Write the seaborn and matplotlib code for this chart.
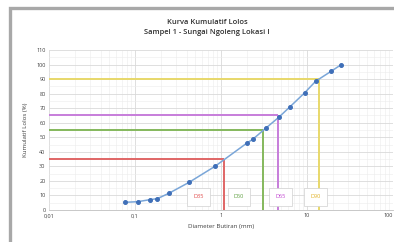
import matplotlib
matplotlib.use("Agg")
import matplotlib.pyplot as plt
import matplotlib.patches as mpatches
from matplotlib.ticker import LogLocator, FixedLocator, FixedFormatter, NullFormatter
import seaborn as sns
import pandas as pd

# ---- data ----
diameter_mm = [0.077, 0.107, 0.149, 0.182, 0.248, 0.425, 0.85, 2.0, 2.34, 3.34,
               4.69, 6.35, 9.4, 12.6, 19.0, 25.1]
lolos_pct = [5.3, 5.7, 7.1, 7.8, 11.5, 19.0, 30.0, 46.0, 48.6, 56.4,
             63.7, 71.0, 80.6, 88.5, 95.3, 100.0]

d_labels = ["D35", "D50", "D65", "D90"]
d_pct = [35, 55, 65, 90]
d_size = [1.09, 3.08, 4.64, 13.8]
d_colors = ["#e06666", "#84b85c", "#c77ddb", "#e8d86a"]
d_text_colors = ["#e04848", "#5fa040", "#c040d0", "#e0b020"]

x_ticks = [0.01, 0.1, 1, 10, 100]
x_ticklabels = ["0,01", "0,1", "1", "10", "100"]
y_ticks = list(range(0, 111, 10))

title_lines = ["Kurva Kumulatif Lolos", "Sampel 1 - Sungai Ngoleng Lokasi I"]
x_label = "Diameter Butiran (mm)"
y_label = "Kumulatif Lolos (%)"

df = pd.DataFrame({"d": diameter_mm, "p": lolos_pct})

sns.set_theme(style="white")
plt.rcParams["font.family"] = ["Open Sans", "DejaVu Sans"]

fig = plt.figure(figsize=(3.94, 2.42), dpi=100)
fig.patch.set_facecolor("white")

# outer chart frame (cropped at right and bottom)
frame = mpatches.Rectangle((10 / 394, -0.05), 1.2, 1 - 8 / 242 + 0.05,
                           transform=fig.transFigure, fill=False,
                           edgecolor="#a8a8a8", linewidth=2.4, clip_on=False)
fig.patches.append(frame)

ax = fig.add_axes([49 / 394, 32 / 242, 344 / 394, 160 / 242])
ax.set_xscale("log")
ax.set_xlim(0.01, 100)
ax.set_ylim(0, 110)

# grid
ax.xaxis.set_major_locator(FixedLocator(x_ticks))
ax.xaxis.set_major_formatter(FixedFormatter(x_ticklabels))
ax.xaxis.set_minor_locator(LogLocator(base=10, subs=range(2, 10)))
ax.xaxis.set_minor_formatter(NullFormatter())
ax.set_yticks(y_ticks)
ax.set_yticks(list(range(5, 110, 10)), minor=True)
ax.grid(True, which="major", color="#d9d9d9", linewidth=0.6)
ax.grid(True, which="minor", color="#ececec", linewidth=0.4)
ax.set_axisbelow(True)

for s in ["top", "right", "left"]:
    ax.spines[s].set_visible(False)
ax.spines["bottom"].set_color("#bfbfbf")
ax.spines["bottom"].set_linewidth(0.6)

ax.tick_params(axis="both", which="both", length=0, labelsize=4.0,
               colors="#404040", pad=2.5)
for lbl in ax.get_xticklabels():
    if lbl.get_text() == "100":
        lbl.set_horizontalalignment("right")

# reference lines
for lab, p, d, c in zip(d_labels, d_pct, d_size, d_colors):
    ax.plot([0.01, d], [p, p], color=c, linewidth=1.4, solid_capstyle="butt", zorder=2)
    ax.plot([d, d], [0, p], color=c, linewidth=1.4, solid_capstyle="butt", zorder=2)

# main curve
sns.lineplot(data=df, x="d", y="p", ax=ax, color="#7aa6d8", linewidth=1.1,
             marker="o", markersize=2.8, markerfacecolor="#3f6fb8",
             markeredgecolor="#3f6fb8", zorder=3)

# label boxes
box_x = [0.55, 1.62, 4.9, 12.5]
for lab, bx, tc in zip(d_labels, box_x, d_text_colors):
    ax.text(bx, 9, lab, color=tc, fontsize=4.0, ha="center", va="center",
            bbox=dict(boxstyle="square,pad=1.1", facecolor="white",
                      edgecolor="#d0d0d0", linewidth=0.5), zorder=4)

ax.set_xlabel(x_label, fontsize=4.4, color="#404040", labelpad=4)
ax.set_ylabel(y_label, fontsize=4.4, color="#404040", labelpad=6)

fig.text(207 / 394, 1 - 22 / 242, title_lines[0], ha="center", va="center",
         fontsize=5.4, color="#303030", fontweight="semibold")
fig.text(207 / 394, 1 - 32 / 242, title_lines[1], ha="center", va="center",
         fontsize=5.4, color="#303030", fontweight="semibold")

fig.savefig("out.png", dpi=100, facecolor="white")
